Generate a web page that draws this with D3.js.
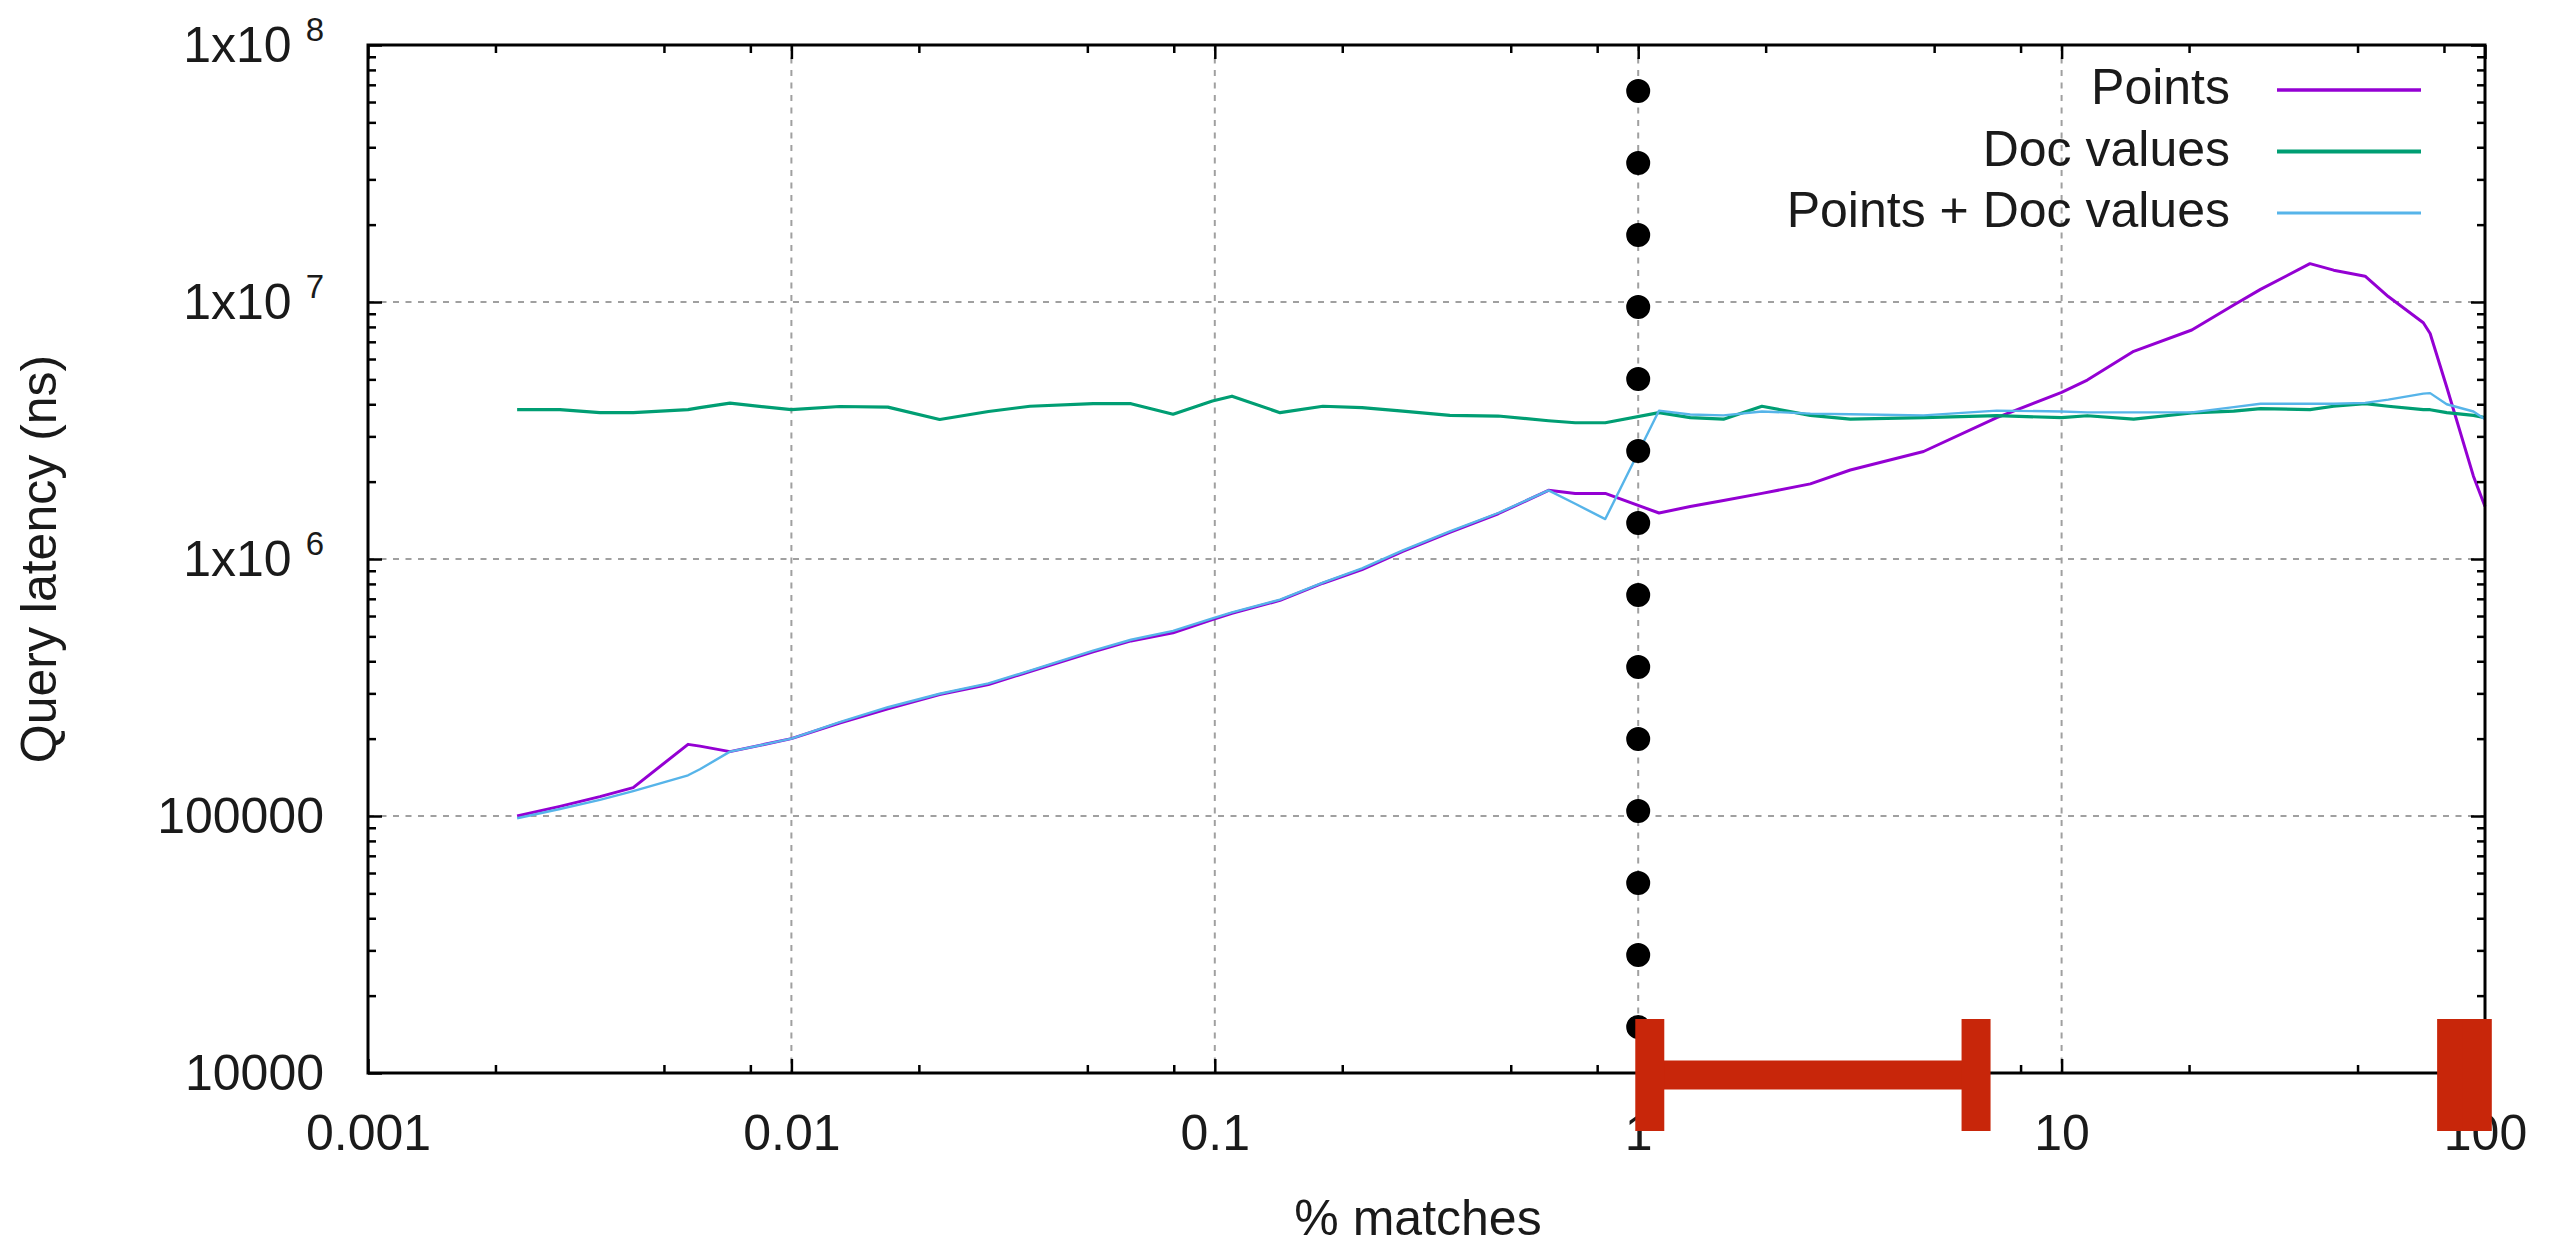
<!DOCTYPE html>
<html>
<head>
<meta charset="utf-8">
<script src="https://cdn.jsdelivr.net/npm/d3@7"></script>
<style>
  html, body { margin: 0; padding: 0; background: #fff; }
  svg { display: block; font-family: "Liberation Sans", Arial, sans-serif; }
</style>
</head>
<body>
<svg id="chart" width="2556" height="1248"></svg>
<script>
// ---------------- data ----------------
const matchPct = [0.00225, 0.00284, 0.00353, 0.00423, 0.0057, 0.00608, 0.00716, 0.01, 0.013, 0.0169,
  0.0224, 0.0292, 0.0366, 0.0516, 0.0634, 0.0797, 0.0987, 0.1098, 0.1426, 0.18,
  0.2227, 0.278, 0.359, 0.467, 0.614, 0.71, 0.836, 1.12, 1.327, 1.59,
  1.96, 2.55, 3.17, 4.72, 7.03, 10, 11.5, 14.8, 20.3, 25.5,
  29.5, 38.6, 43.9, 52.1, 59.1, 71.5, 74.2, 81.2, 93.9, 100];

const pointsLatency = [1.0e5, 1.09e5, 1.19e5, 1.29e5, 1.90e5, 1.87e5, 1.78e5, 2.0e5, 2.30e5, 2.61e5,
  2.97e5, 3.25e5, 3.65e5, 4.35e5, 4.80e5, 5.16e5, 5.81e5, 6.15e5, 6.9e5, 8.05e5,
  9.1e5, 1.07e6, 1.27e6, 1.50e6, 1.85e6, 1.80e6, 1.80e6, 1.51e6, 1.60e6, 1.69e6,
  1.80e6, 1.96e6, 2.22e6, 2.62e6, 3.55e6, 4.45e6, 4.97e6, 6.43e6, 7.78e6, 9.73e6,
  1.12e7, 1.41e7, 1.33e7, 1.26e7, 1.05e7, 8.30e6, 7.54e6, 4.67e6, 2.10e6, 1.60e6];

const docValuesLatency = [3.81e6, 3.81e6, 3.71e6, 3.71e6, 3.81e6, 3.88e6, 4.04e6, 3.81e6, 3.92e6, 3.90e6,
  3.49e6, 3.75e6, 3.93e6, 4.02e6, 4.02e6, 3.66e6, 4.12e6, 4.30e6, 3.71e6, 3.93e6,
  3.88e6, 3.76e6, 3.62e6, 3.60e6, 3.45e6, 3.39e6, 3.39e6, 3.71e6, 3.55e6, 3.50e6,
  3.93e6, 3.62e6, 3.50e6, 3.55e6, 3.61e6, 3.55e6, 3.61e6, 3.50e6, 3.70e6, 3.76e6,
  3.85e6, 3.81e6, 3.93e6, 4.02e6, 3.93e6, 3.81e6, 3.81e6, 3.71e6, 3.62e6, 3.55e6];

const pointsDocValuesLatency = [9.8e4, 1.065e5, 1.155e5, 1.25e5, 1.44e5, 1.52e5, 1.78e5, 2.0e5, 2.32e5, 2.65e5,
  2.99e5, 3.28e5, 3.68e5, 4.40e5, 4.85e5, 5.25e5, 5.88e5, 6.2e5, 6.95e5, 8.1e5,
  9.2e5, 1.08e6, 1.28e6, 1.51e6, 1.85e6, 1.64e6, 1.43e6, 3.78e6, 3.65e6, 3.62e6,
  3.75e6, 3.68e6, 3.66e6, 3.62e6, 3.78e6, 3.75e6, 3.72e6, 3.72e6, 3.72e6, 3.90e6,
  4.02e6, 4.02e6, 4.02e6, 4.05e6, 4.17e6, 4.40e6, 4.42e6, 4.0e6, 3.75e6, 3.50e6];

const seriesNames = ["Points", "Doc values", "Points + Doc values"];
const seriesColors = ["#9400d3", "#009e73", "#56b4e9"];

const xTickValues = [0.001, 0.01, 0.1, 1, 10, 100];
const xTickLabels = ["0.001", "0.01", "0.1", "1", "10", "100"];
const yTickValues = [1e4, 1e5, 1e6, 1e7, 1e8];
const yTickLabels = [["10000", null], ["100000", null], ["1x10", "6"], ["1x10", "7"], ["1x10", "8"]];

// marker: dotted vertical line at 1 % and highlighted ranges on the x axis
const markerX = 1;
const markerYRange = [15100, 6.62e7];
const markerDotCount = 14;
const highlightRanges = [[1.065, 6.28], [83.4, 95.9]];

// ---------------- layout ----------------
const L = 368, R = 2485, T = 45, B = 1073;
const svg = d3.select("#chart");
const x = d3.scaleLog().domain([0.001, 100]).range([L, R]);
const y = d3.scaleLog().domain([1e4, 1e8]).range([B, T]);

const xMinor = [];
for (let e = -3; e < 2; e++) [2, 5, 8].forEach(m => xMinor.push(m * Math.pow(10, e)));
const yMinor = [];
for (let e = 4; e < 8; e++) for (let m = 2; m <= 9; m++) yMinor.push(m * Math.pow(10, e));

// grid
const grid = svg.append("g").attr("stroke", "#a0a0a0").attr("stroke-width", 2)
  .attr("stroke-dasharray", "6,6.5");
grid.selectAll("line.v").data(xTickValues.slice(1, -1)).join("line")
  .attr("x1", d => x(d)).attr("x2", d => x(d)).attr("y1", T).attr("y2", B);
grid.selectAll("line.h").data(yTickValues.slice(1, -1)).join("line")
  .attr("x1", L).attr("x2", R).attr("y1", d => y(d)).attr("y2", d => y(d));

// lines
const allSeries = [pointsLatency, docValuesLatency, pointsDocValuesLatency];
const widths = [3, 3.2, 2.4];
const lineGen = d3.line().x(d => x(d[0])).y(d => y(d[1]));
allSeries.forEach((vals, i) => {
  svg.append("path")
    .datum(matchPct.map((p, j) => [p, vals[j]]))
    .attr("fill", "none")
    .attr("stroke", seriesColors[i])
    .attr("stroke-width", widths[i])
    .attr("stroke-linejoin", "round")
    .attr("d", lineGen);
});

// dotted marker line
const my0 = y(markerYRange[1]), my1 = y(markerYRange[0]);
const step = (my1 - my0) / (markerDotCount - 1);
svg.append("line")
  .attr("x1", x(markerX)).attr("x2", x(markerX))
  .attr("y1", my0).attr("y2", my1)
  .attr("stroke", "#000").attr("stroke-width", 24)
  .attr("stroke-linecap", "round")
  .attr("stroke-dasharray", "0," + step);

// axes
function styleAxis(g) {
  g.select(".domain").remove();
  g.selectAll(".tick line").attr("stroke", "#000").attr("stroke-width", 2.5);
  g.selectAll("text").attr("font-size", 50).attr("fill", "#1a1a1a")
    .attr("font-family", "'Liberation Sans', Arial, sans-serif");
}
const majLen = 14, minLen = 8;

svg.append("g").attr("transform", `translate(0,${B})`)
  .call(d3.axisBottom(x).tickValues(xTickValues).tickSize(-majLen).tickSizeOuter(0)
    .tickPadding(41.5).tickFormat((d, i) => xTickLabels[i]))
  .call(styleAxis);
svg.append("g").attr("transform", `translate(0,${B})`)
  .call(d3.axisBottom(x).tickValues(xMinor).tickSize(-minLen).tickSizeOuter(0).tickFormat(""))
  .call(styleAxis);
svg.append("g").attr("transform", `translate(0,${T})`)
  .call(d3.axisTop(x).tickValues(xTickValues).tickSize(-majLen).tickSizeOuter(0).tickFormat(""))
  .call(styleAxis);
svg.append("g").attr("transform", `translate(0,${T})`)
  .call(d3.axisTop(x).tickValues(xMinor).tickSize(-minLen).tickSizeOuter(0).tickFormat(""))
  .call(styleAxis);

const yAxisG = svg.append("g").attr("transform", `translate(${L},0)`)
  .call(d3.axisLeft(y).tickValues(yTickValues).tickSize(-majLen).tickSizeOuter(0)
    .tickPadding(44).tickFormat(""))
  .call(styleAxis);
yAxisG.selectAll(".tick text").each(function (d, i) {
  const t = d3.select(this);
  const lab = yTickLabels[i];
  t.text(lab[0]);
  if (lab[1]) {
    t.append("tspan").attr("dx", 14).attr("dy", -21).attr("font-size", 33).text(lab[1]);
  }
});
svg.append("g").attr("transform", `translate(${L},0)`)
  .call(d3.axisLeft(y).tickValues(yMinor).tickSize(-minLen).tickSizeOuter(0).tickFormat(""))
  .call(styleAxis);
svg.append("g").attr("transform", `translate(${R},0)`)
  .call(d3.axisRight(y).tickValues(yTickValues).tickSize(-majLen).tickSizeOuter(0).tickFormat(""))
  .call(styleAxis);
svg.append("g").attr("transform", `translate(${R},0)`)
  .call(d3.axisRight(y).tickValues(yMinor).tickSize(-minLen).tickSizeOuter(0).tickFormat(""))
  .call(styleAxis);

// frame
svg.append("rect").attr("x", L).attr("y", T).attr("width", R - L).attr("height", B - T)
  .attr("fill", "none").attr("stroke", "#000").attr("stroke-width", 3);

// axis titles
svg.append("text").attr("x", 1418).attr("y", 1235).attr("text-anchor", "middle")
  .attr("font-size", 50).attr("fill", "#1a1a1a").text("% matches");
svg.append("text").attr("transform", `translate(56,${(T + B) / 2}) rotate(-90)`)
  .attr("text-anchor", "middle").attr("font-size", 50).attr("fill", "#1a1a1a")
  .text("Query latency (ns)");

// legend
const legendY = [90, 151.5, 213];
const lg = svg.append("g");
seriesNames.forEach((name, i) => {
  lg.append("text").attr("x", 2230).attr("y", legendY[i] + 14).attr("text-anchor", "end")
    .attr("font-size", 50).attr("fill", "#1a1a1a").text(name);
  lg.append("line").attr("x1", 2277).attr("x2", 2421).attr("y1", legendY[i]).attr("y2", legendY[i])
    .attr("stroke", seriesColors[i]).attr("stroke-width", widths[i] + 0.6);
});

// highlighted ranges (red H markers on the x axis)
const red = "#c8260a";
const capW = 29, capH = 112, barH = 29;
const cy = y(1e4) + 2;
const hg = svg.append("g").attr("fill", red);
highlightRanges.forEach(([a, b]) => {
  hg.append("rect").attr("x", x(a)).attr("y", cy - barH / 2).attr("width", Math.max(0, x(b) - x(a))).attr("height", barH);
  [a, b].forEach(v => {
    hg.append("rect").attr("x", x(v) - capW / 2).attr("y", cy - capH / 2).attr("width", capW).attr("height", capH);
  });
});
</script>
</body>
</html>
